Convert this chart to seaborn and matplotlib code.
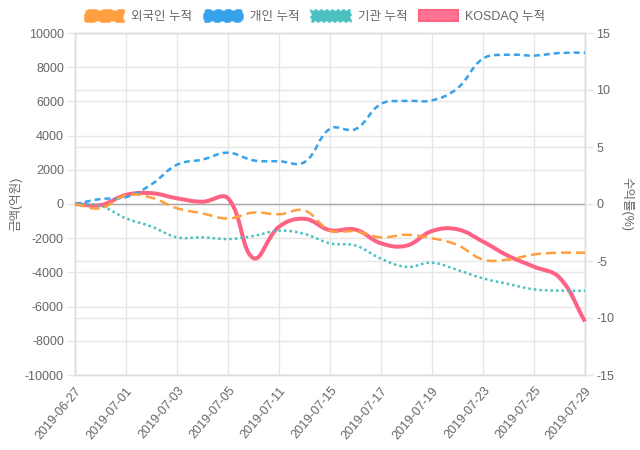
"""
외국인/개인/기관 누적 순매수와 KOSDAQ 누적 수익률 비교 차트.
"""

import numpy as np
import matplotlib
matplotlib.use("Agg")
import matplotlib.pyplot as plt
import matplotlib.patches as mpatches
from matplotlib.path import Path
import seaborn as sns

# 데이터
dates = ["2019-06-27", "2019-06-28", "2019-07-01", "2019-07-02", "2019-07-03",
         "2019-07-04", "2019-07-05", "2019-07-08", "2019-07-11", "2019-07-12",
         "2019-07-15", "2019-07-16", "2019-07-17", "2019-07-18", "2019-07-19",
         "2019-07-22", "2019-07-23", "2019-07-24", "2019-07-25", "2019-07-26",
         "2019-07-29"]
foreign = [0, -250, 520, 370, -250, -550, -850, -500, -600, -380,
           -1550, -1600, -1950, -1800, -2000, -2400, -3250, -3250, -2950, -2850, -2850]
individual = [0, 290, 400, 1150, 2300, 2600, 3000, 2550, 2500, 2450,
              4400, 4380, 5850, 6030, 6060, 6770, 8500, 8730, 8680, 8830, 8850]
institution = [0, -110, -840, -1320, -1950, -1950, -2050, -1870, -1560, -1750,
               -2300, -2430, -3200, -3680, -3430, -3860, -4350, -4680, -4990, -5070, -5070]
kosdaq = [0, -0.1, 0.8, 0.95, 0.5, 0.2, 0.5, -4.75, -2.0, -1.3,
          -2.3, -2.25, -3.45, -3.65, -2.37, -2.22, -3.3, -4.56, -5.5, -6.46, -10.3]

series_labels = ["외국인 누적", "개인 누적", "기관 누적", "KOSDAQ 누적"]
left_ticks = list(range(-10000, 10001, 2000))
right_ticks = list(range(-15, 16, 5))

ORANGE = "#ff9f40"
BLUE = "#36a2eb"
TEAL = "#4bc0c0"
PINK = "#ff6384"
TXT = "#666666"
GRID = "#e6e6e6"

sns.set_theme(style="white")
plt.rcParams["font.family"] = ["Liberation Sans", "Noto Sans CJK KR"]
plt.rcParams["lines.scale_dashes"] = False
plt.rcParams["axes.unicode_minus"] = False


def spline_path(src_ax, dst_ax, xs, ys, tension=0.4):
    # Chart.js 방식의 베지어 곡선 (픽셀 공간에서 제어점 계산)
    pts = src_ax.transData.transform(np.column_stack([xs, ys]))
    n = len(pts)
    prev_cp = np.zeros_like(pts)
    next_cp = np.zeros_like(pts)
    for i in range(n):
        p0 = pts[i - 1] if i > 0 else pts[i]
        p1 = pts[i]
        p2 = pts[i + 1] if i < n - 1 else pts[i]
        d01 = np.hypot(*(p1 - p0))
        d12 = np.hypot(*(p2 - p1))
        tot = d01 + d12
        s01 = d01 / tot if tot else 0
        s12 = d12 / tot if tot else 0
        prev_cp[i] = p1 - tension * s01 * (p2 - p0)
        next_cp[i] = p1 + tension * s12 * (p2 - p0)
    bb = src_ax.bbox
    for cp in (prev_cp, next_cp):
        cp[:, 0] = np.clip(cp[:, 0], bb.x0, bb.x1)
        cp[:, 1] = np.clip(cp[:, 1], bb.y0, bb.y1)
    verts = [pts[0]]
    codes = [Path.MOVETO]
    for i in range(n - 1):
        verts += [next_cp[i], prev_cp[i + 1], pts[i + 1]]
        codes += [Path.CURVE4] * 3
    verts = dst_ax.transData.inverted().transform(np.array(verts))
    return Path(verts, codes)


fig = plt.figure(figsize=(6.4, 4.5), dpi=100)
ax = fig.add_axes([75 / 640, 1 - 375 / 450, 510 / 640, 342 / 450])
ax2 = ax.twinx()
ax.set_zorder(ax2.get_zorder() + 1)
ax.patch.set_visible(False)

x = np.arange(len(dates))
ax.set_xlim(0, len(dates) - 1)
ax.set_ylim(-10000, 10000)
ax2.set_ylim(-15, 15)

ax.set_xticks(x[::2])
ax.set_xticklabels(dates[::2], rotation=50, ha="right", rotation_mode="anchor")
ax.set_yticks(left_ticks)
ax2.set_yticks(right_ticks)

ax.grid(True, color=GRID, lw=1)
ax2.grid(True, axis="y", color=GRID, lw=1)
ax2.grid(False, axis="x")
ax.axhline(0, color="#aaaaaa", lw=1, zorder=1)

for a in (ax, ax2):
    for sp in a.spines.values():
        sp.set_color("#dddddd")
        sp.set_linewidth(1)
ax.tick_params(axis="both", colors=GRID, labelcolor=TXT, labelsize=9,
               length=6, width=1, pad=2)
ax.tick_params(axis="x", pad=1)
ax2.tick_params(axis="y", colors=GRID, labelcolor=TXT, labelsize=9,
                length=6, width=1, pad=2)

ax.set_ylabel("금액(억원)", color=TXT, fontsize=9)
ax.yaxis.set_label_coords(-0.103, 0.5)
ax2.set_ylabel("수익률(%)", color=TXT, fontsize=9, rotation=270)
ax2.yaxis.set_label_coords(1.095, 0.5)

# 선 그리기 (첫 데이터셋이 맨 위)
styles = [
    (ax, foreign, ORANGE, 1.8, (0, (7.2, 3.6)), 6),
    (ax, individual, BLUE, 1.8, (0, (4.3, 2.9)), 5),
    (ax, institution, TEAL, 1.8, (0, (1.8, 2.2)), 4),
    (ax2, kosdaq, PINK, 2.9, "solid", 3),
]
for src, vals, color, lw, ls, z in styles:
    path = spline_path(src, ax, x, vals)
    ax.add_patch(mpatches.PathPatch(path, fill=False, edgecolor=color, lw=lw,
                                    linestyle=ls, capstyle="butt",
                                    joinstyle="round", zorder=z, clip_on=False))

handles = [
    mpatches.Patch(facecolor=ORANGE, edgecolor=ORANGE, lw=1.8, linestyle=(0, (7.2, 3.6))),
    mpatches.Patch(facecolor=BLUE, edgecolor=BLUE, lw=1.8, linestyle=(0, (4.3, 2.9))),
    mpatches.Patch(facecolor=TEAL, edgecolor=TEAL, lw=1.8, linestyle=(0, (1.8, 2.2))),
    mpatches.Patch(facecolor=(1, 0.39, 0.52, 0.9), edgecolor=PINK, lw=1.5),
]
fig.legend(handles, series_labels, loc="center", bbox_to_anchor=(0.492, 0.963),
           ncol=4, frameon=False, fontsize=9, labelcolor=TXT,
           handlelength=3.1, handleheight=0.95, handletextpad=0.6,
           columnspacing=0.95)

fig.savefig("out.png", dpi=100)
